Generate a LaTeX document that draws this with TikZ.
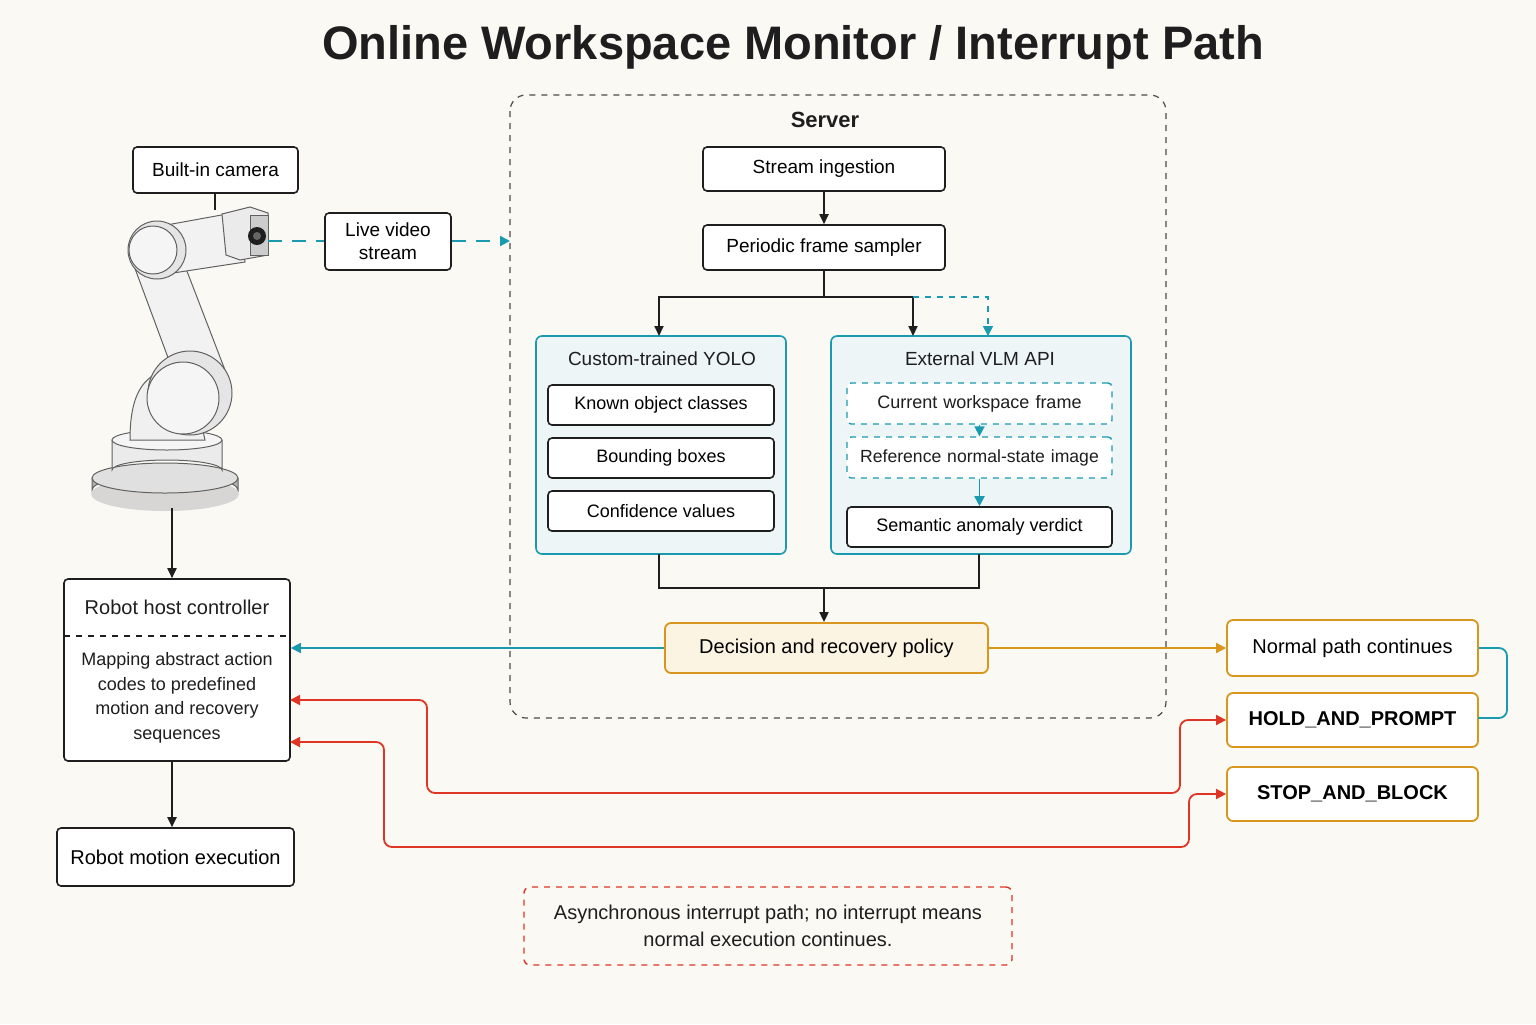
\documentclass[tikz,border=0pt]{standalone}
\usepackage{fontspec}
\setmainfont{Liberation Sans}
\usetikzlibrary{arrows.meta,calc}
\definecolor{bg}{HTML}{FBF9F4}
\definecolor{cy}{HTML}{1A9AAE}
\definecolor{cyf}{HTML}{EEF5F6}
\definecolor{og}{HTML}{D9961C}
\definecolor{ogf}{HTML}{FCF4E2}
\definecolor{rd}{HTML}{DE3524}
\definecolor{ink}{HTML}{1E1E1E}
\definecolor{mg}{HTML}{E6E6E6}
\tikzset{
 box/.style={draw=ink,line width=0.8pt,rounded corners=2pt,fill=white,font=\fontsize{9.5}{11.5}\selectfont,align=center},
 panel/.style={draw=cy,line width=0.8pt,rounded corners=3pt,fill=cyf},
 dbox/.style={draw=cy,dashed,line width=0.7pt,rounded corners=2pt,fill=white},
 obox/.style={draw=og,line width=0.9pt,rounded corners=3pt,fill=white,font=\fontsize{10}{12}\selectfont},
 arr/.style={-{Triangle[length=5pt,width=4.5pt]},line width=0.9pt,draw=ink},
 carr/.style={-{Triangle[length=5pt,width=5pt]},line width=0.9pt,draw=cy},
 rarr/.style={{Triangle[length=5pt,width=5pt]}-{Triangle[length=5pt,width=5pt]},line width=0.9pt,draw=rd,rounded corners=4pt},
 lbl/.style={font=\fontsize{9.5}{11.5}\selectfont,text=ink},
 rob/.style={draw=ink!70,line width=0.5pt,fill=mg},
}
\begin{document}
\begin{tikzpicture}[x=0.5pt,y=-0.5pt]
\fill[bg] (0,0) rectangle (1536,1024);
\useasboundingbox (0,0) rectangle (1536,1024);
\node[font=\fontsize{23.5}{26}\selectfont\bfseries,text=ink] (title) at (793,47) {Online Workspace Monitor / Interrupt Path};
% server
\draw[dashed,draw=ink!80,line width=0.6pt,rounded corners=8pt] (510,95) rectangle (1166,718);
\node[font=\fontsize{11}{13}\selectfont\bfseries,text=ink] (server) at (825,120) {Server};
\node[box,minimum width=121pt,minimum height=22pt] (ing) at (824,169) {Stream ingestion};
\node[box,minimum width=121pt,minimum height=22.5pt] (samp) at (824,247.5) {Periodic frame sampler};
% panels
\node[panel,minimum width=125pt,minimum height=109pt] (yolo) at (661,445) {};
\node[lbl,anchor=center] (yolot) at (662,359) {Custom-trained YOLO};
\node[box,minimum width=113pt,minimum height=20pt,font=\fontsize{9}{11}\selectfont] (k1) at (661,405) {Known object classes};
\node[box,minimum width=113pt,minimum height=20pt,font=\fontsize{9}{11}\selectfont] (k2) at (661,458) {Bounding boxes};
\node[box,minimum width=113pt,minimum height=20pt,font=\fontsize{9}{11}\selectfont] (k3) at (661,511) {Confidence values};
\node[panel,minimum width=150pt,minimum height=109pt] (vlm) at (981,445) {};
\node[lbl] (vlmt) at (980,359) {External VLM API};
\node[dbox,font=\fontsize{9}{11}\selectfont,text=ink,minimum width=132.5pt,minimum height=20.5pt,text width=125pt,align=center,inner xsep=2pt] (v1) at (979.5,403.5) {Current workspace frame};
\node[dbox,font=\fontsize{8.8}{11}\selectfont,text=ink,minimum width=132.5pt,minimum height=20.5pt,text width=125pt,align=center,inner xsep=2pt] (v2) at (979.5,457.5) {Reference normal-state image};
\node[box,minimum width=132.5pt,minimum height=20pt,font=\fontsize{9}{11}\selectfont] (v3) at (979.5,527) {Semantic anomaly verdict};
\draw[carr] (v1.south) -- (v2.north);
\draw[carr] (v2.south) -- (v3.north);
% connectors in server
\draw[arr] (ing.south) -- (samp.north);
\coordinate (j1) at (824,297);
\draw[line width=0.9pt,draw=ink] (samp.south) -- (j1);
\draw[arr] (j1) -- (659,297) -- (659,336);
\draw[arr] (j1) -- (913,297) -- (913,336);
\draw[carr,dashed] (913,297) -- (988,297) -- (988,336);
\node[obox,fill=ogf,minimum width=161.5pt,minimum height=25pt] (dec) at (826.5,648) {Decision and recovery policy};
\coordinate (j2) at (824,588);
\draw[line width=1pt,draw=ink] (659,554) -- (659,588) -- (979,588) -- (979,554);
\draw[arr] (j2) -- (j2 |- dec.north);
% outcomes
\node[obox,minimum width=125.5pt,minimum height=28pt] (norm) at (1352.5,648) {Normal path continues};
\node[obox,minimum width=125.5pt,minimum height=27pt] (hold) at (1352.5,720) {\textbf{HOLD\_AND\_PROMPT}};
\node[obox,minimum width=125.5pt,minimum height=27pt] (stop) at (1352.5,794) {\textbf{STOP\_AND\_BLOCK}};
\draw[-{Triangle[length=5pt,width=5pt]},line width=0.9pt,draw=og] (dec.east) -- (norm.west);
\draw[cy,line width=0.9pt,rounded corners=4pt] (norm.east) -- (1507,648) -- (1507,718) -- (1478,718);
% left column
\node[box,minimum width=82.5pt,minimum height=23pt] (cam) at (215.5,170) {Built-in camera};
\node[box,minimum width=63pt,minimum height=28.5pt] (live) at (388,241.5) {Live video\\stream};
\node[box,minimum width=113pt,minimum height=91pt] (host) at (177,670) {};
\draw[dashed,ink,line width=0.6pt] (64,636) -- (290,636);
\node[lbl,font=\fontsize{10}{12}\selectfont] (hostt) at (177,607) {Robot host controller};
\node[lbl,align=center,font=\fontsize{9}{12.3}\selectfont] (hostb) at (177,698) {Mapping abstract action\\codes to predefined\\motion and recovery\\sequences};
\node[box,minimum width=118.5pt,minimum height=29pt,font=\fontsize{10}{12}\selectfont] (motion) at (175.5,857) {Robot motion execution};
\node[draw=rd,dashed,line width=0.7pt,rounded corners=3pt,minimum width=244pt,minimum height=39pt,align=center,font=\fontsize{10}{13.5}\selectfont,text=ink] (note) at (768,926) {Asynchronous interrupt path; no interrupt means\\normal execution continues.};
% robot arm
\fill[black!25,opacity=0.6] (165,494) ellipse (74 and 17);
\draw[rob,fill=black!30] (92,478) -- (92,490) arc[start angle=180,end angle=360,x radius=73,y radius=15] -- (238,478);
\draw[rob,fill=black!12] (165,478) ellipse (73 and 15);
\draw[rob,fill=black!8] (112,440) -- (112,470) arc[start angle=180,end angle=360,x radius=55,y radius=10] -- (222,440);
\draw[rob,fill=black!4] (167,440) ellipse (55 and 10);
\draw[rob,fill=black!6] (130,440) .. controls (130,400) and (140,380) .. (160,372) -- (210,380) .. controls (200,400) and (200,420) .. (205,440) -- cycle;
\draw[rob,fill=black!5] (130,255) -- (175,240) -- (225,370) -- (180,390) -- cycle;
\draw[rob,fill=black!10] (190,393) circle (42);
\draw[rob,fill=black!4] (183,398) circle (36);
\draw[rob,fill=black!5] (150,228) -- (238,212) -- (245,262) -- (160,275) -- cycle;
\draw[rob,fill=black!10] (157,250) circle (29);
\draw[rob,fill=black!4] (153,250) circle (24);
\draw[rob,fill=black!8] (222,214) -- (250,207) -- (268,213) -- (268,255) -- (240,260) -- (226,255) -- cycle;
\draw[rob,fill=black!20] (250,215) rectangle (268,255);
\fill[ink] (257,236) circle (9);
\fill[black!60] (257,236) circle (4);
\coordinate (lens) at (268,241);
\coordinate (rbase) at (172,508);
\coordinate (camtop) at (215,210);
\coordinate (srvin) at (510,241);
\draw[ink,line width=0.6pt] (cam.south -| camtop) -- (camtop);
\draw[cy,line width=1pt,dash pattern=on 7pt off 5pt] (lens) -- (live.west |- lens);
\draw[carr,line width=1pt,dash pattern=on 7pt off 5pt] (live.east |- lens) -- (srvin);
\draw[arr] (rbase) -- (host.north -| rbase);
\draw[arr] (host.south -| rbase) -- (motion.north -| rbase);
% return paths
\draw[carr] (dec.west) -- (host.east |- dec.west);
\draw[rarr] (290,700) -- (427,700) -- (427,793) -- (1180,793) -- (1180,720) -- (hold.west);
\draw[rarr] (290,742) -- (384,742) -- (384,847) -- (1189,847) -- (1189,794) -- (stop.west);
\end{tikzpicture}
\end{document}
